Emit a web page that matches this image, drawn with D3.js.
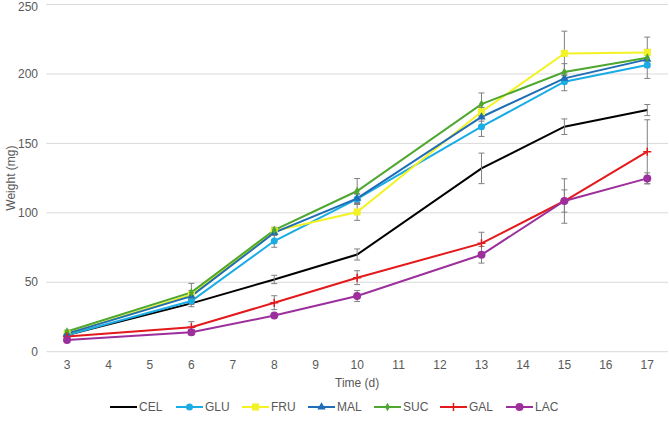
<!DOCTYPE html>
<html>
<head>
<meta charset="utf-8">
<script src="https://cdn.jsdelivr.net/npm/d3@7"></script>
<style>
body { margin: 0; background: #fff; }
text { font-family: "Liberation Sans", Arial, sans-serif; fill: #595959; }
</style>
</head>
<body>
<svg id="chart" width="669" height="423"></svg>
<script>
// time points (days)
var days = [3, 6, 8, 10, 13, 15, 17];
var xTicks = [3, 4, 5, 6, 7, 8, 9, 10, 11, 12, 13, 14, 15, 16, 17];
var yTicks = [0, 50, 100, 150, 200, 250];

var names = ["CEL", "GLU", "FRU", "MAL", "SUC", "GAL", "LAC"];
var colors = ["#000000", "#1aace4", "#f2f224", "#1f6db5", "#4ea72e", "#e3191c", "#9c2f9c"];
var markers = ["none", "circle", "square", "triangle", "diamond", "plus", "bigcircle"];

// mean weights (mg)
var CEL = [12, 34.8, 52, 70, 132, 162, 174];
var GLU = [12, 36.5, 79.7, 110, 162, 194.4, 206.4];
var FRU = [13, 41, 86.9, 100.6, 172.8, 214.8, 215.5];
var MAL = [13, 40, 85.7, 110.4, 169, 196.8, 210.5];
var SUC = [14.5, 42.7, 87.6, 115.7, 178.3, 201.4, 211.7];
var GAL = [11, 17.6, 35.3, 53.3, 78, 108.5, 144];
var LAC = [8.5, 14, 26, 40.1, 69.8, 108.5, 124.8];

// standard errors (mg)
var CELerr = [1, 2.4, 3, 4, 11, 5.6, 4];
var GLUerr = [1, 2.5, 4.5, 4, 7, 6.5, 9.6];
var FRUerr = [1, 3, 2, 6, 3, 16, 11];
var MALerr = [1, 2, 2, 3, 3, 3, 3];
var SUCerr = [1, 6.5, 2, 9, 8, 6, 6];
var GALerr = [1, 4, 5, 5, 8, 8, 23];
var LACerr = [1, 2, 1.5, 4, 6, 16, 4];

var values = [CEL, GLU, FRU, MAL, SUC, GAL, LAC];
var errors = [CELerr, GLUerr, FRUerr, MALerr, SUCerr, GALerr, LACerr];

var svg = d3.select("#chart");

var x = d3.scaleLinear().domain([2.5, 17.5]).range([46.3, 668]);
var y = d3.scaleLinear().domain([0, 250]).range([351.7, 4.5]);

// gridlines
svg.append("g").selectAll("line")
    .data(yTicks)
    .enter().append("line")
    .attr("x1", x(2.5)).attr("x2", x(17.5))
    .attr("y1", function(d) { return y(d); })
    .attr("y2", function(d) { return y(d); })
    .attr("stroke", "#d9d9d9")
    .attr("stroke-width", 1);

// y tick labels (top one nudged so it is not clipped)
svg.append("g").selectAll("text")
    .data(yTicks)
    .enter().append("text")
    .attr("x", 38)
    .attr("y", function(d) { return Math.max(y(d), 6.5); })
    .attr("dy", "0.35em")
    .attr("text-anchor", "end")
    .style("font-size", "12px")
    .text(function(d) { return d; });

// x tick labels
svg.append("g").selectAll("text")
    .data(xTicks)
    .enter().append("text")
    .attr("x", function(d) { return x(d); })
    .attr("y", 369)
    .attr("text-anchor", "middle")
    .style("font-size", "12px")
    .text(function(d) { return d; });

// axis titles
svg.append("text")
    .attr("text-anchor", "middle")
    .attr("transform", "translate(15," + y(125) + ")rotate(-90)")
    .style("font-size", "12px")
    .text("Weight (mg)");

svg.append("text")
    .attr("text-anchor", "middle")
    .attr("x", x(10))
    .attr("y", 387)
    .style("font-size", "12px")
    .text("Time (d)");

var line = d3.line()
    .x(function(d, i) { return x(days[i]); })
    .y(function(d) { return y(d); });

// lines
values.forEach(function(vals, s) {
    svg.append("path")
        .datum(vals)
        .attr("d", line)
        .attr("fill", "none")
        .attr("stroke", colors[s])
        .attr("stroke-width", 2);
});

// error bars
values.forEach(function(vals, s) {
    var g = svg.append("g").attr("stroke", "#808080").attr("stroke-width", 1);
    vals.forEach(function(v, i) {
        var e = errors[s][i];
        var cx = x(days[i]);
        g.append("line").attr("x1", cx).attr("x2", cx).attr("y1", y(v - e)).attr("y2", y(v + e));
        g.append("line").attr("x1", cx - 3).attr("x2", cx + 3).attr("y1", y(v - e)).attr("y2", y(v - e));
        g.append("line").attr("x1", cx - 3).attr("x2", cx + 3).attr("y1", y(v + e)).attr("y2", y(v + e));
    });
});

function drawMarker(g, type, cx, cy, color) {
    if (type == "circle") {
        g.append("circle").attr("cx", cx).attr("cy", cy).attr("r", 3.5).attr("fill", color);
    } else if (type == "bigcircle") {
        g.append("circle").attr("cx", cx).attr("cy", cy).attr("r", 4).attr("fill", color);
    } else if (type == "square") {
        g.append("rect").attr("x", cx - 3.5).attr("y", cy - 3.5).attr("width", 7).attr("height", 7).attr("fill", color);
    } else if (type == "triangle") {
        g.append("path").attr("d", d3.symbol().type(d3.symbolTriangle).size(30)())
            .attr("transform", "translate(" + cx + "," + cy + ")").attr("fill", color);
    } else if (type == "diamond") {
        g.append("path").attr("d", d3.symbol().type(d3.symbolDiamond).size(22)())
            .attr("transform", "translate(" + cx + "," + cy + ")").attr("fill", color);
    } else if (type == "plus") {
        g.append("path").attr("d", "M" + (cx - 4) + "," + cy + "H" + (cx + 4) + "M" + cx + "," + (cy - 4) + "V" + (cy + 4))
            .attr("stroke", color).attr("stroke-width", 1.5);
    }
}

// markers
values.forEach(function(vals, s) {
    var g = svg.append("g");
    vals.forEach(function(v, i) {
        drawMarker(g, markers[s], x(days[i]), y(v), colors[s]);
    });
});

// legend
var legend = svg.selectAll(".legend")
    .data(names)
    .enter().append("g")
    .attr("class", "legend")
    .attr("transform", function(d, i) { return "translate(" + (110 + i * 66) + ",407)"; });

legend.append("line")
    .attr("x1", 0).attr("x2", 27)
    .attr("stroke", function(d, i) { return colors[i]; })
    .attr("stroke-width", 2);

legend.each(function(d, i) {
    drawMarker(d3.select(this), markers[i], 13.5, 0, colors[i]);
});

legend.append("text")
    .attr("x", 29)
    .attr("dy", "0.35em")
    .style("font-size", "12px")
    .text(function(d) { return d; });
</script>
</body>
</html>
